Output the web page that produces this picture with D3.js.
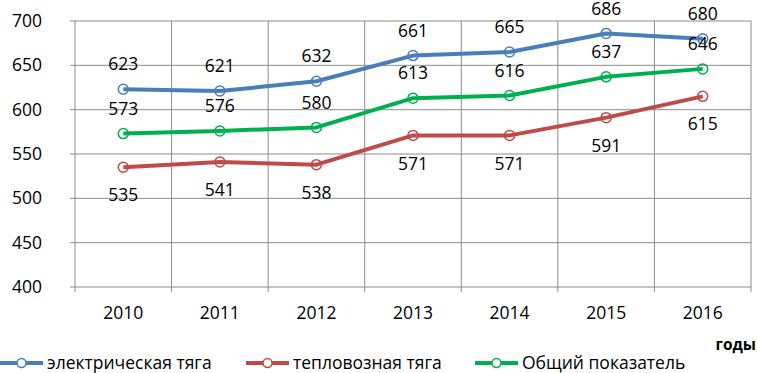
<!DOCTYPE html>
<html>
<head>
<meta charset="utf-8">
<script src="https://cdn.jsdelivr.net/npm/d3@7"></script>
<style>
	body { margin: 0; background: #fff; }
	svg text { font-family: "Open Sans", sans-serif; fill: #000; }
</style>
</head>
<body>
<div id="chart"></div>
<script>
// Data
const years = ["2010", "2011", "2012", "2013", "2014", "2015", "2016"];
const electric = [623, 621, 632, 661, 665, 686, 680];
const diesel = [535, 541, 538, 571, 571, 591, 615];
const total = [573, 576, 580, 613, 616, 637, 646];
const yTicks = [400, 450, 500, 550, 600, 650, 700];

const series = [
	{ name: "электрическая тяга", values: electric, color: "#4a7ebb", labelPos: "above" },
	{ name: "тепловозная тяга", values: diesel, color: "#be4b48", labelPos: "below" },
	{ name: "Общий показатель", values: total, color: "#00b050", labelPos: "above" }
];

const width = 757, height = 373;
const margin = { top: 21, right: 6, bottom: 86, left: 75 };
const innerW = width - margin.left - margin.right;
const innerH = height - margin.top - margin.bottom;

const svg = d3.select("#chart").append("svg")
	.attr("width", width)
	.attr("height", height);

const chartArea = svg.append("g")
	.attr("transform", "translate(" + margin.left + "," + margin.top + ")");

// Scales
const x = d3.scaleBand()
	.domain(years)
	.range([0, innerW]);

const y = d3.scaleLinear()
	.domain([400, 700])
	.range([innerH, 0]);

// Horizontal gridlines + left ticks
chartArea.append("g")
	.selectAll("line")
	.data(yTicks)
	.join("line")
	.attr("x1", -5)
	.attr("x2", innerW)
	.attr("y1", d => y(d))
	.attr("y2", d => y(d))
	.attr("stroke", "#8c8c8c")
	.attr("stroke-width", 1);

// Vertical gridlines at category boundaries (with small ticks below)
let bounds = years.map(d => x(d)).concat([innerW]);
chartArea.append("g")
	.selectAll("line")
	.data(bounds)
	.join("line")
	.attr("x1", d => d)
	.attr("x2", d => d)
	.attr("y1", 0)
	.attr("y2", innerH + 5)
	.attr("stroke", "#8c8c8c")
	.attr("stroke-width", 1);

// Y axis labels
chartArea.append("g")
	.selectAll("text")
	.data(yTicks)
	.join("text")
	.attr("x", -33)
	.attr("y", d => y(d))
	.attr("dy", "0.35em")
	.attr("text-anchor", "end")
	.style("font-size", "17.5px")
	.text(d => d);

// X axis labels
chartArea.append("g")
	.selectAll("text")
	.data(years)
	.join("text")
	.attr("x", d => x(d) + x.bandwidth() / 2)
	.attr("y", innerH + 26)
	.attr("dy", "0.35em")
	.attr("text-anchor", "middle")
	.style("font-size", "17.5px")
	.text(d => d);

// Axis title
svg.append("text")
	.attr("x", 756)
	.attr("y", 345)
	.attr("dy", "0.35em")
	.attr("text-anchor", "end")
	.style("font-size", "15.5px")
	.style("font-weight", "bold")
	.text("годы");

// Lines
const line = d3.line()
	.x((d, i) => x(years[i]) + x.bandwidth() / 2)
	.y(d => y(d));

series.forEach(s => {
	chartArea.append("path")
		.datum(s.values)
		.attr("fill", "none")
		.attr("stroke", s.color)
		.attr("stroke-width", 4)
		.attr("stroke-linejoin", "round")
		.attr("d", line);

	chartArea.append("g")
		.selectAll("circle")
		.data(s.values)
		.join("circle")
		.attr("cx", (d, i) => x(years[i]) + x.bandwidth() / 2)
		.attr("cy", d => y(d))
		.attr("r", 5)
		.attr("fill", "none")
		.attr("stroke", s.color)
		.attr("stroke-width", 1.5);
});

// Data labels
series.forEach(s => {
	chartArea.append("g")
		.selectAll("text")
		.data(s.values)
		.join("text")
		.attr("x", (d, i) => x(years[i]) + x.bandwidth() / 2)
		.attr("y", d => y(d) + (s.labelPos === "above" ? -25 : 28))
		.attr("dy", "0.35em")
		.attr("text-anchor", "middle")
		.style("font-size", "17.5px")
		.text(d => d);
});

// Legend
const legendX = [0, 246, 475];
const legend = svg.append("g")
	.attr("transform", "translate(0,363)");

series.forEach((s, i) => {
	let g = legend.append("g")
		.attr("transform", "translate(" + legendX[i] + ",0)");
	g.append("line")
		.attr("x1", 0)
		.attr("x2", 43)
		.attr("y1", 0)
		.attr("y2", 0)
		.attr("stroke", s.color)
		.attr("stroke-width", 4);
	g.append("circle")
		.attr("cx", 21.5)
		.attr("cy", 0)
		.attr("r", 4.5)
		.attr("fill", "#fff")
		.attr("stroke", s.color)
		.attr("stroke-width", 1.5);
	g.append("text")
		.attr("x", 47)
		.attr("y", 0)
		.attr("dy", "0.35em")
		.style("font-size", "17.5px")
		.text(s.name);
});
</script>
</body>
</html>
